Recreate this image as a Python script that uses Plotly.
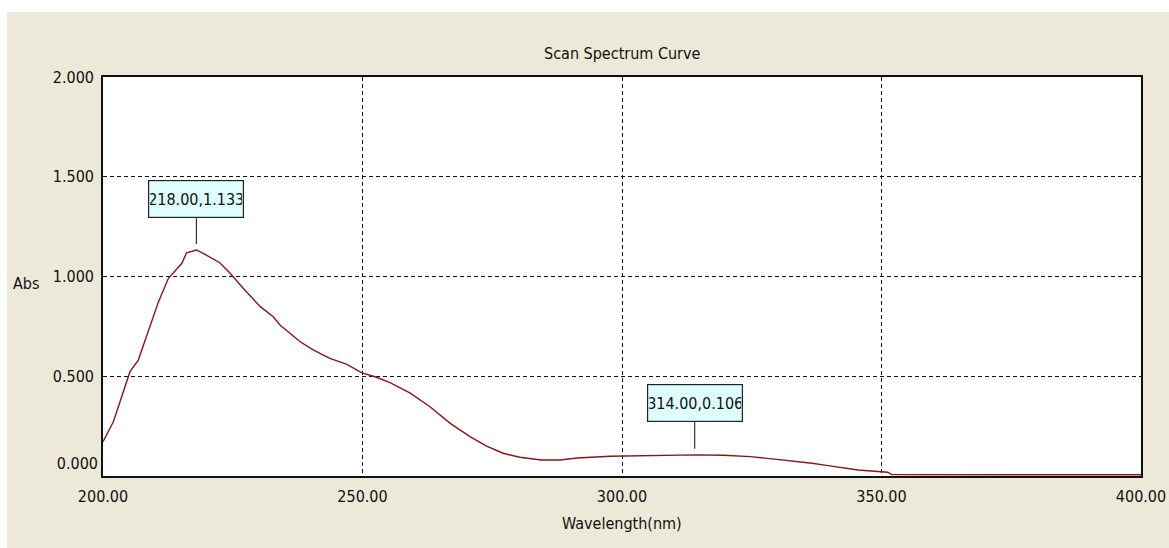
import plotly.graph_objects as go

# Scan spectrum: wavelength (nm) vs absorbance
wavelength = [200.0, 202.0, 203.6, 205.2, 206.8, 208.4, 210.7, 212.6, 215.2, 216.1,
              218.0, 219.3, 222.5, 224.5, 227.0, 230.3, 232.8, 234.1, 238.0, 240.5,
              243.7, 246.9, 249.8, 252.7, 255.3, 259.2, 263.0, 266.9, 270.7, 273.9,
              277.1, 280.3, 284.5, 288.1, 291.3, 297.7, 304.1, 308.0, 314.0, 319.5,
              324.7, 328.5, 333.3, 336.6, 339.7, 342.6, 345.5, 351.2, 352.0, 400.0]
absorbance = [0.172, 0.272, 0.397, 0.523, 0.581, 0.698, 0.874, 0.991, 1.066, 1.119,
              1.133, 1.116, 1.069, 1.016, 0.941, 0.849, 0.798, 0.757, 0.673, 0.632,
              0.590, 0.561, 0.518, 0.495, 0.468, 0.415, 0.347, 0.264, 0.197, 0.150,
              0.114, 0.094, 0.080, 0.080, 0.090, 0.099, 0.102, 0.105, 0.106, 0.104,
              0.097, 0.087, 0.075, 0.064, 0.052, 0.040, 0.030, 0.019, 0.007, 0.006]

# Labelled peaks
peak_wl = [218.0, 314.0]
peak_abs = [1.133, 0.106]
peak_ay = [-51, -52]

x_ticks = [200, 250, 300, 350, 400]
y_ticks = [0.5, 1.0, 1.5, 2.0]

title_text = "Scan Spectrum Curve"
x_title = "Wavelength(nm)"
y_title = "Abs"

W, H = 1169, 548
ML, MR, MT, MB = 103, 28, 77, 72
PW, PH = W - ML - MR, H - MT - MB
FAMILY = "Liberation Sans Narrow, DejaVu Sans Condensed, DejaVu Sans, sans-serif"
BEIGE = "#ECE9D8"
INK = "#111111"


def font(size):
    return dict(family=FAMILY, size=size, color=INK)


def px_x(p):
    return (p - ML) / PW


def px_y(p):
    return (H - MB - p) / PH


fig = go.Figure()
fig.add_trace(go.Scatter(
    x=wavelength, y=absorbance, mode="lines",
    line=dict(color="#85161a", width=1.4),
    hoverinfo="x+y", showlegend=False,
))
# invisible trace that hosts the separate zero-label axis
fig.add_trace(go.Scatter(x=[200], y=[0], yaxis="y2", mode="markers",
                         marker=dict(opacity=0), showlegend=False, hoverinfo="skip"))

for wl, a, ay in zip(peak_wl, peak_abs, peak_ay):
    fig.add_annotation(
        x=wl, y=a, text=f"{wl:.2f},{a:.3f}",
        showarrow=True, arrowhead=0, arrowwidth=1.2, arrowcolor="#333333",
        ax=0, ay=ay, standoff=6,
        bgcolor="#DFFFFF", bordercolor="#222222", borderwidth=1.2,
        width=92, height=34, font=font(16),
    )

for txt, xp, yp in [(y_title, 26, 283), (x_title, 622, 523), (title_text, 622, 53)]:
    fig.add_annotation(text=txt, xref="paper", yref="paper",
                       x=px_x(xp), y=px_y(yp), xanchor="center", yanchor="middle",
                       showarrow=False, font=font(16))

# white window edge strips at the top and left
fig.add_shape(type="rect", xref="paper", yref="paper", layer="below",
              x0=px_x(0), x1=px_x(W), y0=px_y(12), y1=px_y(0),
              fillcolor="white", line_width=0)
fig.add_shape(type="rect", xref="paper", yref="paper", layer="below",
              x0=px_x(0), x1=px_x(7), y0=px_y(H), y1=px_y(0),
              fillcolor="white", line_width=0)

axis_common = dict(
    showgrid=True, gridcolor=INK, gridwidth=1, griddash="4px,3px",
    showline=True, linecolor=INK, linewidth=1.6, mirror=True,
    zeroline=False, ticks="", automargin=False, tickfont=font(16),
)

fig.update_layout(
    width=W, height=H,
    margin=dict(l=ML, r=MR, t=MT, b=MB, autoexpand=False),
    paper_bgcolor=BEIGE, plot_bgcolor="white",
    font=font(16),
    xaxis=dict(range=[200, 400], tickvals=x_ticks, tickformat=".2f",
               ticklabelstandoff=5, **axis_common),
    yaxis=dict(range=[0, 2], tickvals=y_ticks, tickformat=".3f",
               ticklabelstandoff=4, **axis_common),
    yaxis2=dict(range=[0, 2], overlaying="y", side="left", tickvals=[0],
                tickformat=".3f", ticklabelshift=-13, showgrid=False,
                showline=False, zeroline=False, ticks="", ticklabelstandoff=4,
                automargin=False, tickfont=font(16)),
    hovermode="closest",
)

fig.write_html("out.html")
